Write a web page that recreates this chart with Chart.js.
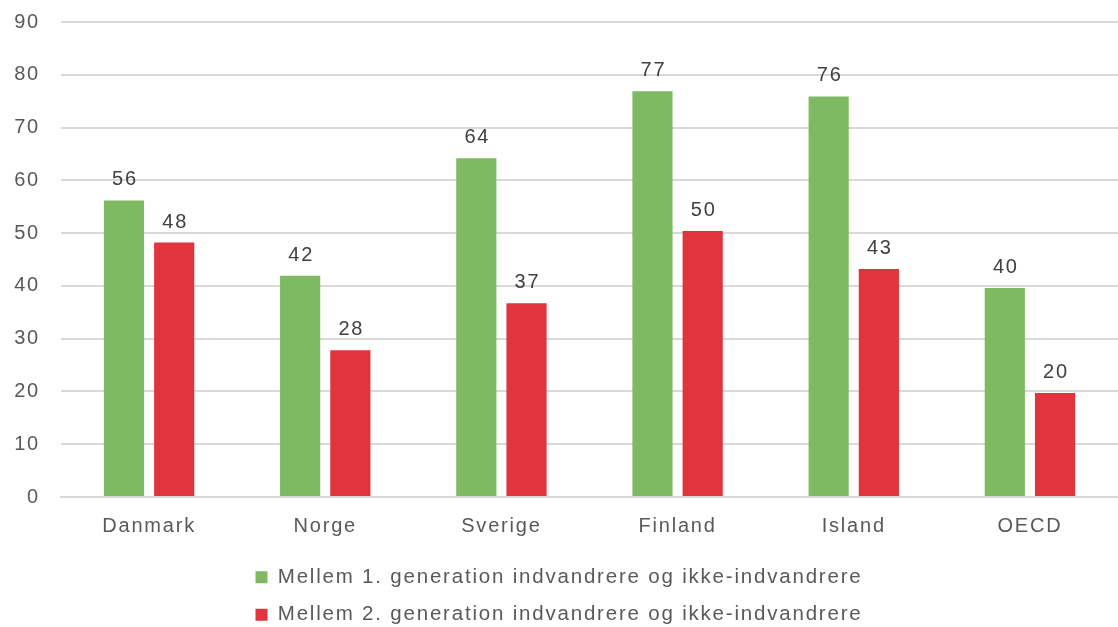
<!DOCTYPE html>
<html>
<head>
<meta charset="utf-8">
<script src="https://cdn.jsdelivr.net/npm/chart.js@4.4.1/dist/chart.umd.min.js"></script>
<style>
  html, body { margin: 0; padding: 0; background: #ffffff; }
  #wrap { width: 1118px; height: 627px; }
</style>
</head>
<body>
<div id="wrap"><canvas id="chart"></canvas></div>
<script>
// kategorier og værdier
const lande = ['Danmark', 'Norge', 'Sverige', 'Finland', 'Island', 'OECD'];
const forsteGeneration = [56.2, 41.9, 64.2, 76.9, 75.9, 39.6];
const andenGeneration = [48.2, 27.8, 36.7, 50.4, 43.2, 19.7];
const serieNavne = [
    'Mellem 1. generation indvandrere og ikke-indvandrere',
    'Mellem 2. generation indvandrere og ikke-indvandrere'
];

const tekstFarve = '#595959';
const bogstavAfstand = '1.8px';

// ekstra bogstavafstand som i originalen
const spacingPlugin = {
    id: 'spacing',
    beforeLayout(chart) { chart.ctx.letterSpacing = bogstavAfstand; },
    beforeDraw(chart) { chart.ctx.letterSpacing = bogstavAfstand; }
};

// tal over søjlerne
const labelPlugin = {
    id: 'barLabels',
    afterDatasetsDraw(chart) {
        const ctx = chart.ctx;
        ctx.save();
        ctx.letterSpacing = bogstavAfstand;
        ctx.font = '20px "Liberation Sans", Arial, sans-serif';
        ctx.fillStyle = '#404040';
        ctx.textAlign = 'center';
        ctx.textBaseline = 'alphabetic';
        chart.data.datasets.forEach((ds, i) => {
            chart.getDatasetMeta(i).data.forEach((bar, j) => {
                ctx.fillText(Math.round(ds.data[j]), bar.x + 1, bar.y - 15);
            });
        });
        ctx.restore();
    }
};

Chart.defaults.font.family = '"Liberation Sans", Arial, sans-serif';
Chart.defaults.font.size = 20;
Chart.defaults.color = tekstFarve;

new Chart(document.getElementById('chart'), {
    type: 'bar',
    data: {
        labels: lande,
        datasets: [
            {
                label: serieNavne[0],
                data: forsteGeneration,
                backgroundColor: '#7fba63'
            },
            {
                label: serieNavne[1],
                data: andenGeneration,
                backgroundColor: '#e2343d'
            }
        ]
    },
    options: {
        responsive: true,
        maintainAspectRatio: false,
        animation: false,
        categoryPercentage: 0.57,
        barPercentage: 0.8,
        layout: {
            padding: { top: 22, left: 0, right: 0, bottom: -8 }
        },
        scales: {
            x: {
                grid: { display: false },
                border: { color: '#d9d9d9', width: 2 },
                ticks: { padding: 9, color: tekstFarve },
                afterFit(scale) { scale.height += 3; }
            },
            y: {
                min: 0,
                max: 90,
                afterFit(scale) {
                    scale.width = 61;
                    scale.paddingTop = 0;
                    scale.paddingBottom = 0;
                },
                ticks: { stepSize: 10, padding: 21, color: tekstFarve },
                grid: { color: '#d9d9d9', lineWidth: 2, drawTicks: false },
                border: { display: false }
            }
        },
        plugins: {
            legend: {
                position: 'bottom',
                labels: {
                    boxWidth: 12,
                    boxHeight: 12,
                    padding: 17,
                    color: tekstFarve,
                    font: { size: 20.5 }
                }
            },
            tooltip: { enabled: false }
        }
    },
    plugins: [spacingPlugin, labelPlugin]
});
</script>
</body>
</html>
